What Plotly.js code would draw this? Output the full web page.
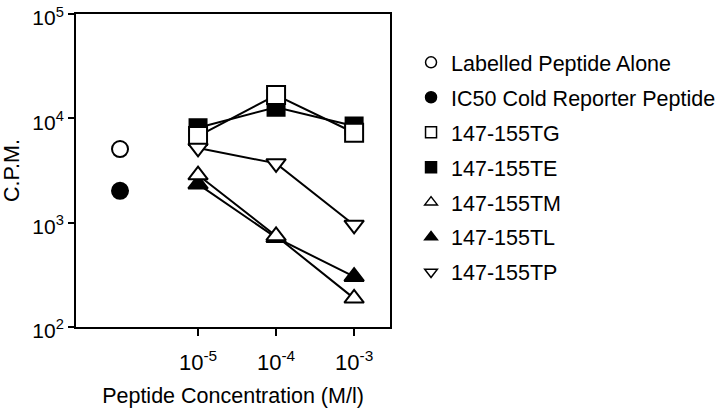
<!DOCTYPE html>
<html>
<head>
<meta charset="utf-8">
<script src="https://cdn.plot.ly/plotly-3.0.1.min.js"></script>
<style>html,body{margin:0;padding:0;background:#fff;}#chart{width:720px;height:408px;}</style>
</head>
<body>
<div id="chart"></div>
<script>
// Concentrations (M/l)
const conc = [1e-5, 1e-4, 1e-3];
const controlConc = [1e-6];
// Controls
const labelledAlone = [5080];
const ic50Cold = [2020];
// Series (C.P.M.)
const TG = [6760, 16700, 7280];
const TE = [8130, 12770, 8440];
const TM = [2860, 745, 188];
const TL = [2340, 718, 303];
const TP = [5200, 3700, 950];
// Labels
const seriesNames = ["Labelled Peptide Alone", "IC50 Cold Reporter Peptide",
  "147-155TG", "147-155TE", "147-155TM", "147-155TL", "147-155TP"];
const xTickVals = [1e-5, 1e-4, 1e-3];
const xTickText = ["10<sup>-5</sup>", "10<sup>-4</sup>", "10<sup>-3</sup>"];
const yTickVals = [1e2, 1e3, 1e4, 1e5];
const yTickText = ["10<sup>2</sup>", "10<sup>3</sup>", "10<sup>4</sup>", "10<sup>5</sup>"];

const FONT = "Liberation Sans, Arial, Helvetica, sans-serif";
const black = "#000";
const FS = 21.5;

function lineTrace(y, symbol, fill, size) {
  return {
    x: conc, y: y, type: "scatter", mode: "lines+markers", showlegend: false,
    line: {color: black, width: 2},
    marker: {symbol: symbol, size: size, color: fill, line: {color: black, width: 2}},
    hoverinfo: "x+y"
  };
}
function ctrlTrace(y, fill) {
  return {
    x: controlConc, y: y, type: "scatter", mode: "markers", showlegend: false,
    marker: {symbol: "circle", size: 16, color: fill, line: {color: black, width: 2}}
  };
}
const legendSymbols = [
  ["circle", "#fff"], ["circle", black], ["square", "#fff"], ["square", black],
  ["triangle-up", "#fff"], ["triangle-up", black], ["triangle-down", "#fff"]
];
const legendTraces = seriesNames.map((n, i) => ({
  x: [null], y: [null], type: "scatter", mode: "markers", name: n,
  legendgroup: "g" + i,
  marker: {symbol: legendSymbols[i][0], size: 11, color: legendSymbols[i][1],
           line: {color: black, width: 1.5}}
}));

const data = [
  ctrlTrace(labelledAlone, "#fff"),
  ctrlTrace(ic50Cold, black),
  lineTrace(TE, "square", black, 17),
  lineTrace(TG, "square", "#fff", 18),
  lineTrace(TP, "triangle-down", "#fff", 17),
  lineTrace(TL, "triangle-up", black, 17),
  lineTrace(TM, "triangle-up", "#fff", 17)
].concat(legendTraces);

const layout = {
  width: 720, height: 408,
  margin: {l: 76, r: 330, t: 14, b: 81, autoexpand: false},
  paper_bgcolor: "#fff", plot_bgcolor: "#fff",
  font: {family: FONT, size: FS, color: black},
  showlegend: true,
  legend: {
    x: 1.067, xanchor: "left", y: 0.911, yanchor: "top",
    traceorder: "grouped", tracegroupgap: 4,
    font: {family: FONT, size: FS, color: black},
    bgcolor: "rgba(0,0,0,0)", borderwidth: 0
  },
  xaxis: {
    type: "log", range: [-6.564, -2.54],
    tickvals: xTickVals, ticktext: xTickText,
    ticks: "outside", ticklen: 7, tickwidth: 2, tickcolor: black,
    ticklabelstandoff: 8, ticklabeloverflow: "allow",
    showline: true, linewidth: 2, linecolor: black, mirror: true,
    showgrid: false, zeroline: false,
    tickfont: {family: FONT, size: 22, color: black},
    title: {text: "Peptide Concentration (M/l)", font: {family: FONT, size: FS, color: black}, standoff: 16}
  },
  yaxis: {
    type: "log", range: [1.9995, 5.0005],
    tickvals: yTickVals, ticktext: yTickText,
    ticks: "outside", ticklen: 6, tickwidth: 2, tickcolor: black,
    ticklabeloverflow: "allow", ticklabelshift: 4,
    showline: true, linewidth: 2, linecolor: black, mirror: true,
    showgrid: false, zeroline: false,
    tickfont: {family: FONT, size: 21, color: black},
    title: {text: "C.P.M.", font: {family: FONT, size: FS, color: black}, standoff: 8}
  }
};

Plotly.newPlot("chart", data, layout, {displayModeBar: false, staticPlot: true});
</script>
</body>
</html>
